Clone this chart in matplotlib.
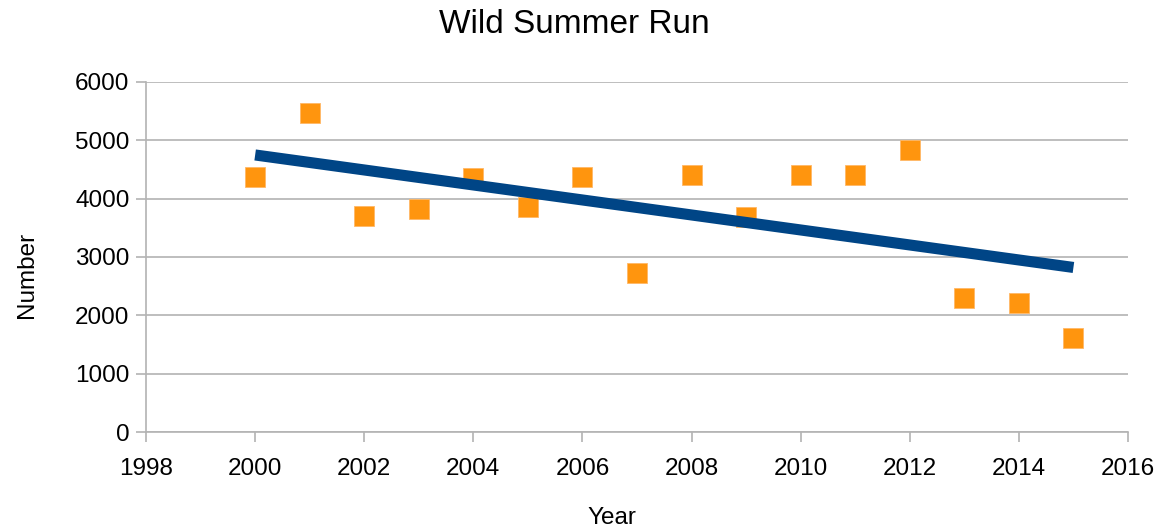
import numpy as np
import matplotlib.pyplot as plt

plt.rcParams['font.family'] = ['Liberation Sans', 'DejaVu Sans']

years = [2000, 2001, 2002, 2003, 2004, 2005, 2006, 2007,
         2008, 2009, 2010, 2011, 2012, 2013, 2014, 2015]
counts = [4370, 5475, 3700, 3830, 4350, 3860, 4370, 2730,
          4410, 3690, 4405, 4405, 4830, 2295, 2215, 1615]

# linear trend line
slope, intercept = np.polyfit(years, counts, 1)
trend_x = np.array([years[0], years[-1]])
trend_y = slope * trend_x + intercept

fig = plt.figure(figsize=(11.6, 5.28), dpi=100)
ax = fig.add_axes([0.1259, 0.1818, 0.8465, 0.663])

ax.plot(years, counts, linestyle='none', marker='s', markersize=14.4,
        color='#ff950e', markeredgecolor='#ffb866', markeredgewidth=0.6, zorder=3)
ax.plot(trend_x, trend_y, color='#004586', linewidth=8, solid_capstyle='butt', zorder=4)

ax.set_xlim(1998, 2016)
ax.set_ylim(0, 6000)
ax.set_xticks(range(1998, 2017, 2))
ax.set_yticks(range(0, 6001, 1000))
ax.yaxis.grid(True, color='#b3b3b3', linewidth=1.2)
ax.set_axisbelow(True)

for side in ['top', 'right']:
    ax.spines[side].set_visible(False)
for side in ['left', 'bottom']:
    ax.spines[side].set_color('#b3b3b3')
    ax.spines[side].set_linewidth(1.2)
ax.tick_params(axis='both', direction='out', length=7, width=1.2, color='#b3b3b3',
               labelsize=17.5)
ax.tick_params(axis='x', pad=12)
ax.tick_params(axis='y', pad=5)

fig.text(0.495, 0.953, 'Wild Summer Run', fontsize=24, ha='center', va='center')
ax.set_xlabel('Year', fontsize=17.5)
ax.set_ylabel('Number', fontsize=17.5)
ax.xaxis.set_label_coords(0.4745, -0.215)
ax.yaxis.set_label_coords(-0.11, 0.449)

fig.savefig('out.png', dpi=100)
plt.close()
print("out.png saved")
